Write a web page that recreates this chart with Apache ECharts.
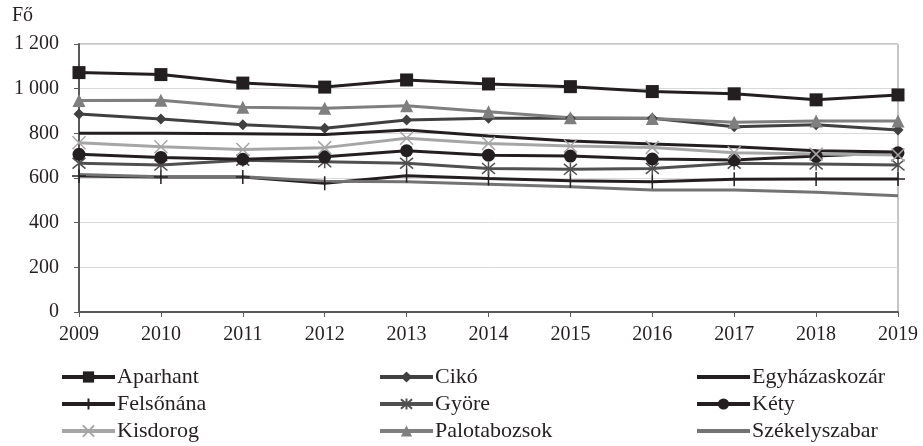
<!DOCTYPE html>
<html>
<head>
<meta charset="utf-8">
<script src="https://cdn.jsdelivr.net/npm/echarts@6/dist/echarts.min.js"></script>
<style>html,body{margin:0;padding:0;background:#fff}#c{width:923px;height:446px}</style>
</head>
<body>
<div id="c"></div>
<script>
var years = ['2009','2010','2011','2012','2013','2014','2015','2016','2017','2018','2019'];
var yTicks = [0, 200, 400, 600, 800, 1000, 1200];
var aparhant      = [1072, 1063, 1025, 1007, 1039, 1021, 1009, 987, 977, 950, 972];
var ciko          = [887, 864, 838, 823, 860, 868, 868, 868, 830, 838, 815];
var egyhazaskozar = [800, 800, 798, 795, 815, 788, 766, 752, 740, 722, 716];
var felsonana     = [609, 604, 604, 576, 610, 598, 588, 583, 594, 595, 595];
var gyore         = [666, 658, 680, 673, 666, 643, 639, 643, 666, 663, 658];
var kety          = [706, 692, 684, 695, 722, 702, 698, 685, 681, 698, 713];
var kisdorog      = [758, 740, 728, 736, 778, 755, 743, 737, 713, 707, 703];
var palotabozsok  = [947, 948, 917, 912, 923, 897, 870, 866, 850, 855, 855];
var szekelyszabar = [616, 606, 606, 586, 583, 572, 561, 546, 546, 536, 520];
var legendOrder = [
  ['Aparhant', 'Cikó', 'Egyházaskozár'],
  ['Felsőnána', 'Györe', 'Kéty'],
  ['Kisdorog', 'Palotabozsok', 'Székelyszabar']
];
var plainLines = ['Egyházaskozár', 'Székelyszabar'];

var FONT = 'Liberation Serif';
var PLUS = 'path://M0,-1L0,1M-1,0L1,0';
var STAR = 'path://M-1,-1L1,1M1,-1L-1,1M0,-1.2L0,1.2';
var XM = 'path://M-1,-1L1,1M1,-1L-1,1';

function mk(name, data, color, symbol, size, stroke) {
  var s = {
    name: name, type: 'line', data: data, symbol: symbol, symbolSize: size,
    showSymbol: symbol !== 'none',
    lineStyle: { color: color, width: 3 },
    itemStyle: { color: color },
    emphasis: { disabled: true },
    animation: false
  };
  if (stroke) {
    s.itemStyle = { color: 'none', borderColor: color, borderWidth: 1.5 };
  }
  return s;
}

var series = [
  mk('Aparhant', aparhant, '#231f20', 'rect', 13),
  mk('Cikó', ciko, '#404040', 'diamond', 11),
  mk('Egyházaskozár', egyhazaskozar, '#231f20', 'none', 0),
  mk('Felsőnána', felsonana, '#231f20', PLUS, 14, true),
  mk('Györe', gyore, '#505050', STAR, 13, true),
  mk('Kéty', kety, '#231f20', 'circle', 13),
  mk('Kisdorog', kisdorog, '#a6a6a6', XM, 13, true),
  mk('Palotabozsok', palotabozsok, '#7f7f7f', 'triangle', 13),
  mk('Székelyszabar', szekelyszabar, '#737373', 'none', 0)
];

var colLeft = [60, 378, 695];
var rowCenter = [377, 404, 431];
var legends = [];
legendOrder.forEach(function (row, r) {
  row.forEach(function (name, c) {
    var item = { name: name };
    if (plainLines.indexOf(name) >= 0) item.itemStyle = { opacity: 0 };
    legends.push({
      left: colLeft[c], top: rowCenter[r] - 11, orient: 'horizontal', data: [item],
      itemWidth: 53, itemHeight: 14, padding: 0,
      lineStyle: { width: 4 },
      textStyle: { fontFamily: FONT, fontSize: 22, color: '#231f20', lineHeight: 22, padding: [0,0,0,-3] },
      selectedMode: false
    });
  });
});

var chart = echarts.init(document.getElementById('c'), null, { renderer: 'canvas' });
chart.setOption({
  animation: false,
  textStyle: { fontFamily: FONT },
  grid: { left: 79, right: 25, top: 44, bottom: 134, show: true, borderColor: '#8c8c8c', borderWidth: 1 },
  graphic: [{ type: 'text', left: 12, top: 6, style: { text: 'Fő', font: '20px "Liberation Serif"', fill: '#231f20' } }],
  legend: legends,
  xAxis: {
    type: 'category', data: years, boundaryGap: false,
    axisLine: { lineStyle: { color: '#595959', width: 2 } },
    axisTick: { show: true, interval: 0, length: 5, lineStyle: { color: '#595959', width: 1 } },
    axisLabel: { fontFamily: FONT, fontSize: 20, color: '#231f20', margin: 13, interval: 0 },
    splitLine: { show: false }
  },
  yAxis: {
    type: 'value', min: yTicks[0], max: yTicks[yTicks.length - 1], interval: 200,
    axisLine: { show: true, lineStyle: { color: '#595959', width: 2 } },
    axisTick: { show: true, length: 5, lineStyle: { color: '#595959', width: 1 } },
    axisLabel: {
      fontFamily: FONT, fontSize: 20, color: '#231f20', margin: 20,
      formatter: function (v) { return String(v).replace(/\B(?=(\d{3})+(?!\d))/g, ' '); }
    },
    splitLine: { show: true, lineStyle: { color: '#d9d9d9', width: 1 } }
  },
  series: series
});
</script>
</body>
</html>
